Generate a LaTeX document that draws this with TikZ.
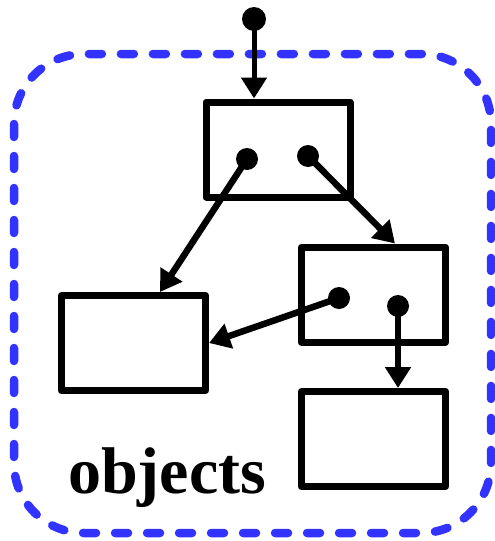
\documentclass[tikz,border=0pt]{standalone}
\usepackage{fontspec}
\setmainfont{Liberation Serif}
\usetikzlibrary{arrows.meta}
\definecolor{groupblue}{RGB}{51,51,255}
\tikzset{
  objbox/.style={draw=black, line width=7pt, line join=round, rectangle,
    minimum width=144pt, minimum height=95pt, inner sep=0pt},
  ref/.style={circle, fill=black, inner sep=0pt, minimum size=22pt},
  rootref/.style={circle, fill=black, inner sep=0pt, minimum size=24pt},
  ptr/.style={line width=6.5pt, -{Triangle[width=25pt,length=21pt]}},
  group/.style={draw=groupblue, line width=8.5pt, line cap=round,
    dash pattern=on 13pt off 19pt, rounded corners=70pt}
}
\begin{document}
\begin{tikzpicture}[x=1pt,y=-1pt]
  \useasboundingbox (0,0) rectangle (495,541);
  % dashed region holding the objects
  \draw[group] (14,54) rectangle (491,533);
  % objects
  \node[objbox] (tb) at (278,149.5) {};
  \node[objbox] (lb) at (133.5,343) {};
  \node[objbox] (mr) at (373.5,294.5) {};
  \node[objbox] (br) at (373.5,439) {};
  % reference slots
  \node[rootref] (root) at (254,19) {};
  \node[ref] (ta) at (247,159) {};
  \node[ref] (tc) at (308,156) {};
  \node[ref] (ma) at (339,298) {};
  \node[ref] (mc) at (398,306) {};
  % pointers
  \draw[ptr, line width=5pt] (root.center) -- (root |- tb.north);
  \draw[ptr] (ta.center) -- ([xshift=26.5pt]lb.north);
  \draw[ptr] (tc.center) -- ([xshift=21.5pt]mr.north);
  \draw[ptr] (ma.center) -- (lb.east);
  \draw[ptr] (mc.center) -- (mc |- br.north);
  % label
  \node[anchor=base west, inner sep=0pt, font=\fontsize{66}{66}\selectfont\bfseries]
    (lbl) at (68,493) {objects};
\end{tikzpicture}
\end{document}
